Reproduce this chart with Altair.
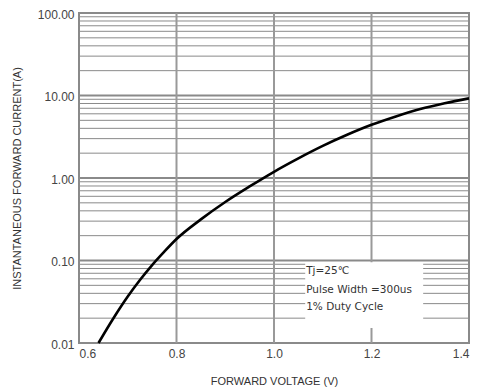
import altair as alt
import pandas as pd

# Curve
voltage = [0.64, 0.67, 0.70, 0.725, 0.75, 0.775, 0.80, 0.85, 0.90, 0.95, 1.0,
           1.05, 1.10, 1.15, 1.2, 1.25, 1.3, 1.35, 1.4]
current = [0.010, 0.0197, 0.0366, 0.058, 0.088, 0.128, 0.182, 0.315, 0.512, 0.79, 1.19,
           1.73, 2.45, 3.34, 4.41, 5.58, 6.84, 8.04, 9.23]

x_ticks = [0.6, 0.8, 1.0, 1.2, 1.4]
x_grid = [0.8, 1.0, 1.2]
y_ticks = [0.01, 0.1, 1, 10, 100]
y_major = [0.1, 1, 10]
y_minor = [m * d for d in [0.01, 0.1, 1, 10] for m in range(2, 10)]

note_lines = ["Tj=25\u2103", "Pulse Width =300us", "1% Duty Cycle"]
note_y = [0.074, 0.044, 0.0275]
box = {"x": [1.064], "x2": [1.306], "y": [0.095], "y2": [0.0152]}

curve_df = pd.DataFrame({"v": voltage, "i": current})
grid_c = "#8a8a8a"

xs = alt.Scale(domain=[0.6, 1.4], nice=False, zero=False)
ys = alt.Scale(type="log", domain=[0.01, 100], nice=False)

x_axis = alt.Axis(values=x_ticks, format=".1f", grid=False, domain=False, ticks=False,
                  labelPadding=5, labelFontSize=12, labelColor="#444", labelFont="Liberation Sans",
                  title="FORWARD VOLTAGE (V)", titleFontSize=11, titleFontWeight="normal",
                  titleColor="#333", titleFont="Liberation Sans", titlePadding=16)
y_axis = alt.Axis(values=y_ticks, format=".2f", grid=False, domain=False, ticks=False,
                  labelPadding=5, labelFontSize=12, labelColor="#444", labelFont="Liberation Sans",
                  labelOffset=1,
                  title="INSTANTANEOUS FORWARD CURRENT(A)", titleFontSize=11, titleFontWeight="normal",
                  titleColor="#333", titleFont="Liberation Sans", titlePadding=15)

minor = alt.Chart(pd.DataFrame({"y": y_minor})).mark_rule(color=grid_c, strokeWidth=1).encode(
    y=alt.Y("y:Q", scale=ys, axis=y_axis))
major = alt.Chart(pd.DataFrame({"y": y_major})).mark_rule(color=grid_c, strokeWidth=2).encode(
    y=alt.Y("y:Q", scale=ys))
vert = alt.Chart(pd.DataFrame({"x": x_grid})).mark_rule(color="#999", strokeWidth=2).encode(
    x=alt.X("x:Q", scale=xs, axis=x_axis))
rect = alt.Chart(pd.DataFrame(box)).mark_rect(color="white").encode(
    x=alt.X("x:Q", scale=xs), x2="x2:Q", y=alt.Y("y:Q", scale=ys), y2="y2:Q")
line = alt.Chart(curve_df).mark_line(color="black", strokeWidth=2.6, interpolate="monotone").encode(
    x=alt.X("v:Q", scale=xs), y=alt.Y("i:Q", scale=ys))
notes = alt.Chart(pd.DataFrame({"t": note_lines, "y": note_y, "x": [1.066] * 3})).mark_text(
    align="left", baseline="middle", fontSize=10.5, font="DejaVu Sans", color="#333").encode(
    x=alt.X("x:Q", scale=xs), y=alt.Y("y:Q", scale=ys), text="t:N")

chart = alt.layer(minor, major, vert, rect, line, notes).properties(
    width=390, height=330,
    autosize=alt.AutoSizeParams(type="none"),
    padding={"left": 71, "top": 5, "right": 6, "bottom": 48},
).configure_view(stroke=grid_c, strokeWidth=2)

chart.save("out.html", embed_options={"renderer": "svg", "actions": False})
